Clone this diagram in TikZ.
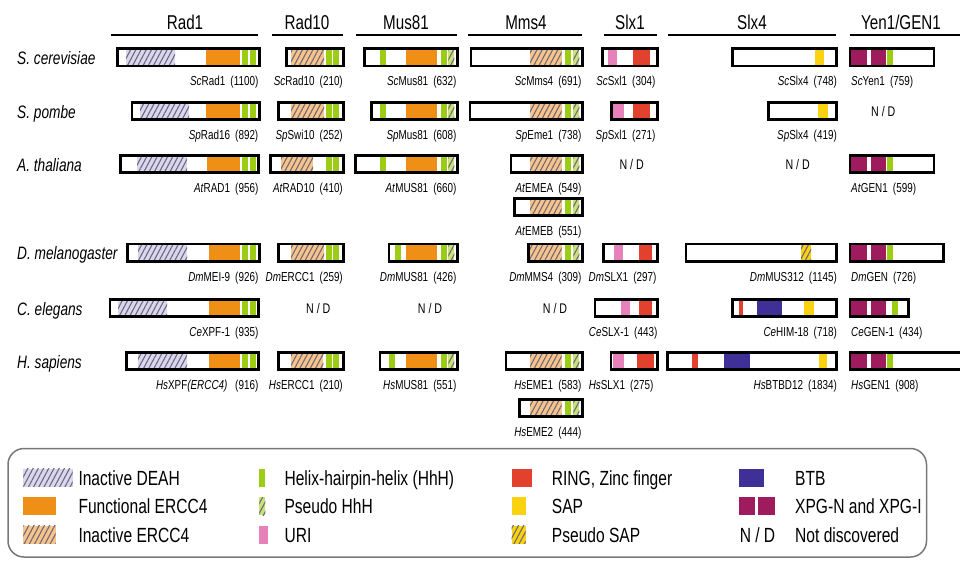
\documentclass[tikz,border=0pt]{standalone}
\usepackage{fontspec}
\setmainfont{Liberation Sans}[FakeStretch=0.76]
\usetikzlibrary{patterns.meta}

% domain colours
\definecolor{lav}{RGB}{218,214,240}
\definecolor{hatch}{RGB}{110,105,120}
\definecolor{ercc}{RGB}{240,143,22}
\definecolor{ltercc}{RGB}{248,196,140}
\definecolor{hhh}{RGB}{157,204,20}
\definecolor{lthhh}{RGB}{200,226,120}
\definecolor{uri}{RGB}{230,130,185}
\definecolor{ring}{RGB}{226,65,45}
\definecolor{sap}{RGB}{250,210,15}
\definecolor{btb}{RGB}{62,48,150}
\definecolor{xpg}{RGB}{158,28,94}
\definecolor{frame}{RGB}{120,120,120}

\newcommand\boxhh{8.7}
\newcommand\hdrsize{\fontsize{20}{24}\selectfont}
\newcommand\spsize{\fontsize{18}{22}\selectfont\itshape}
\newcommand\labsize{\fontsize{13}{15}\selectfont}
\newcommand\ndsize{\fontsize{14}{16}\selectfont}
\newcommand\legsize{\fontsize{20.5}{25}\selectfont}

\tikzset{
  hatched/.style={postaction={pattern={Lines[angle=62,distance=4.6pt,line width=1.1pt]},pattern color=hatch}},
  deah/.style={fill=lav,hatched},
  fercc/.style={fill=ercc},
  iercc/.style={fill=ltercc,hatched},
  hhhbar/.style={fill=hhh},
  phhh/.style={fill=lthhh,hatched},
  uribar/.style={fill=uri},
  ringbar/.style={fill=ring},
  sapbar/.style={fill=sap},
  psap/.style={fill=sap,hatched},
  btbbar/.style={fill=btb},
  xpgbar/.style={fill=xpg},
  protframe/.style={draw=black,line width=2.6pt},
  header/.style={font=\hdrsize,anchor=base,inner sep=0pt},
  headrule/.style={line width=2.4pt},
  species/.style={font=\spsize,anchor=base west,inner sep=0pt},
  plabel/.style={font=\labsize,inner sep=0pt},
  ndtext/.style={font=\ndsize,inner sep=0pt},
  legtext/.style={font=\legsize,anchor=base west,inner sep=0pt},
}

% a domain bar and the outline of a protein, inside a row scope
\newcommand\dmn[3]{\fill[#1] (#2,-\boxhh) rectangle (#3,\boxhh);}
\newcommand\protbox[2]{\draw[protframe] (#1,-\boxhh) rectangle (#2,\boxhh);}
% protein name under its bar: anchor side, node name, x, text
\newcommand\glab[4]{\node[plabel,anchor=base #1] (#2) at (#3,28.5) {#4};}
\newcommand\gn[3]{\textit{#1}#2\hspace{0.4em}(#3)}

% recurring domain layouts
\newcommand\radone[5]{\dmn{deah}{#3}{#4}\dmn{fercc}{#5}{240}\dmn{hhhbar}{242.2}{248.2}\dmn{hhhbar}{249.8}{256}\protbox{#1}{#2}}
\newcommand\radten[3]{\dmn{iercc}{#2}{#3}\dmn{hhhbar}{325.8}{331.6}\dmn{hhhbar}{333.3}{339.3}\protbox{#1}{343.3}}
\newcommand\musone[3]{\dmn{hhhbar}{#2}{#3}\dmn{fercc}{405.7}{436.7}\dmn{hhhbar}{440.7}{446.7}\dmn{phhh}{448.3}{454.3}\protbox{#1}{457.3}}
\newcommand\mmsfour[1]{\dmn{iercc}{530}{561.7}\dmn{hhhbar}{565}{571}\dmn{phhh}{573.3}{579.3}\protbox{#1}{582.7}}
\newcommand\yenone[2]{\dmn{xpgbar}{851}{867.3}\dmn{xpgbar}{870.7}{885.7}\dmn{hhhbar}{#2}{#2+6.5}\protbox{850}{#1}}

\begin{document}
\begin{tikzpicture}[x=1pt,y=-1pt]
\clip (0,0) rectangle (960,560);
\fill[white] (0,0) rectangle (960,560);

% column headings
\node[header] (hRad1) at (185,29.3) {Rad1};
\node[header] (hRad10) at (307,29.3) {Rad10};
\node[header] (hMus81) at (406,29.3) {Mus81};
\node[header] (hMms4) at (526,29.3) {Mms4};
\node[header] (hSlx1) at (630,29.3) {Slx1};
\node[header] (hSlx4) at (752,29.3) {Slx4};
\node[header] (hYen1) at (901,29.3) {Yen1/GEN1};
\draw[headrule] (111,35) -- (258,35);
\draw[headrule] (272,35) -- (343,35);
\draw[headrule] (356,35) -- (457,35);
\draw[headrule] (468,35) -- (582,35);
\draw[headrule] (604,35) -- (657,35);
\draw[headrule] (668,35) -- (836,35);
\draw[headrule] (850,35) -- (962,35);

% S. cerevisiae
\begin{scope}[shift={(0,57.3)}]
  \node[species] (spSc) at (17,7) {S.~cerevisiae};
  \radone{117.3}{259.3}{126}{175}{206}
  \glab{east}{ScRad1}{258.5}{\gn{Sc}{Rad1}{1100}}
  \radten{286.7}{291}{324}
  \glab{east}{ScRad10}{343}{\gn{Sc}{Rad10}{210}}
  \musone{364.3}{380}{386}
  \glab{east}{ScMus81}{456.7}{\gn{Sc}{Mus81}{632}}
  \mmsfour{471}
  \glab{east}{ScMms4}{581.7}{\gn{Sc}{Mms4}{691}}
  \dmn{uribar}{607.7}{616.7}\dmn{ringbar}{633.3}{650}\protbox{602.7}{657.7}
  \glab{east}{ScSxl1}{655.5}{\gn{Sc}{Sxl1}{304}}
  \dmn{sapbar}{815}{824}\protbox{732.7}{836.7}
  \glab{east}{ScSlx4}{837}{\gn{Sc}{Slx4}{748}}
  \yenone{934}{886.7}
  \glab{west}{ScYen1}{851}{\gn{Sc}{Yen1}{759}}
\end{scope}

% S. pombe
\begin{scope}[shift={(0,111)}]
  \node[species] (spSp) at (17,7) {S.~pombe};
  \radone{132}{259.3}{140}{189}{206}
  \glab{east}{SpRad16}{258.5}{\gn{Sp}{Rad16}{892}}
  \radten{278.3}{291}{324}
  \glab{east}{SpSwi10}{343}{\gn{Sp}{Swi10}{252}}
  \musone{371.7}{380}{386}
  \glab{east}{SpMus81}{456.7}{\gn{Sp}{Mus81}{608}}
  \mmsfour{470}
  \glab{east}{SpEme1}{581.7}{\gn{Sp}{Eme1}{738}}
  \dmn{uribar}{613.3}{624}\dmn{ringbar}{633.3}{650}\protbox{611.7}{657.7}
  \glab{east}{SpSxl1}{655.5}{\gn{Sp}{Sxl1}{271}}
  \dmn{sapbar}{817.7}{827.7}\protbox{768.3}{836.7}
  \glab{east}{SpSlx4}{837}{\gn{Sp}{Slx4}{419}}
  \node[ndtext] (ndSpYen) at (883.3,0.5) {N / D};
\end{scope}

% A. thaliana
\begin{scope}[shift={(0,164)}]
  \node[species] (spAt) at (17,7) {A.~thaliana};
  \radone{120.7}{258.7}{137}{187}{206.7}
  \glab{east}{AtRAD1}{258.5}{\gn{At}{RAD1}{956}}
  \radten{270.7}{281}{313}
  \glab{east}{AtRAD10}{343}{\gn{At}{RAD10}{410}}
  \musone{355.7}{380}{386}
  \glab{east}{AtMUS81}{456.7}{\gn{At}{MUS81}{660}}
  \mmsfour{511}
  \glab{east}{AtEMEA}{581.7}{\gn{At}{EMEA}{549}}
  \node[ndtext] (ndAtSlx1) at (631.7,0.5) {N / D};
  \node[ndtext] (ndAtSlx4) at (797.7,0.5) {N / D};
  \yenone{934}{886.7}
  \glab{west}{AtGEN1}{851}{\gn{At}{GEN1}{599}}
\end{scope}
\begin{scope}[shift={(0,207)}]
  \mmsfour{514.3}
  \glab{east}{AtEMEB}{581.7}{\gn{At}{EMEB}{551}}
\end{scope}

% D. melanogaster
\begin{scope}[shift={(0,252.7)}]
  \node[species] (spDm) at (17,7) {D.~melanogaster};
  \radone{127.3}{259.3}{138}{187}{208.7}
  \glab{east}{DmMEI9}{258.5}{\gn{Dm}{MEI-9}{926}}
  \radten{278.3}{291}{324}
  \glab{east}{DmERCC1}{343}{\gn{Dm}{ERCC1}{259}}
  \musone{389}{395}{401}
  \glab{east}{DmMUS81}{456.7}{\gn{Dm}{MUS81}{426}}
  \mmsfour{528.3}
  \glab{east}{DmMMS4}{581.7}{\gn{Dm}{MMS4}{309}}
  \dmn{uribar}{614}{623.3}\dmn{ringbar}{638.7}{652}\protbox{603.3}{657.7}
  \glab{east}{DmSLX1}{656.7}{\gn{Dm}{SLX1}{297}}
  \dmn{psap}{801}{811}\protbox{686}{836.7}
  \glab{east}{DmMUS312}{837}{\gn{Dm}{MUS312}{1145}}
  \yenone{943.3}{886.7}
  \glab{west}{DmGEN}{851}{\gn{Dm}{GEN}{726}}
\end{scope}

% C. elegans
\begin{scope}[shift={(0,308)}]
  \node[species] (spCe) at (17,7) {C.~elegans};
  \radone{110}{258.7}{118}{167}{208.7}
  \glab{east}{CeXPF1}{258.5}{\gn{Ce}{XPF-1}{935}}
  \node[ndtext] (ndCeRad10) at (318.3,0.5) {N / D};
  \node[ndtext] (ndCeMus81) at (430,0.5) {N / D};
  \node[ndtext] (ndCeMms4) at (555,0.5) {N / D};
  \dmn{uribar}{620.7}{630}\dmn{ringbar}{638.7}{652}\protbox{595}{657.7}
  \glab{east}{CeSLX1}{657.5}{\gn{Ce}{SLX-1}{443}}
  \dmn{ringbar}{739.3}{743.3}\dmn{btbbar}{756.7}{781.7}\dmn{sapbar}{804}{814}\protbox{732.7}{836.7}
  \glab{east}{CeHIM18}{837}{\gn{Ce}{HIM-18}{718}}
  \yenone{908.3}{891.7}
  \glab{west}{CeGEN1}{851}{\gn{Ce}{GEN-1}{434}}
\end{scope}

% H. sapiens
\begin{scope}[shift={(0,361)}]
  \node[species] (spHs) at (17,7) {H.~sapiens};
  \radone{126.7}{258.7}{138}{187}{208.7}
  \glab{east}{HsXPF}{258.5}{\textit{Hs}XPF\textit{(ERCC4)}\hspace{0.6em}(916)}
  \radten{278.3}{291}{323.3}
  \glab{east}{HsERCC1}{343}{\gn{Hs}{ERCC1}{210}}
  \musone{380}{389}{395}
  \glab{east}{HsMUS81}{456.7}{\gn{Hs}{MUS81}{551}}
  \mmsfour{506}
  \glab{east}{HsEME1}{581.7}{\gn{Hs}{EME1}{583}}
  \dmn{uribar}{613.3}{624}\dmn{ringbar}{637}{653.7}\protbox{611}{657.7}
  \glab{east}{HsSLX1}{653.5}{\gn{Hs}{SLX1}{275}}
  \dmn{ringbar}{691.7}{697.7}\dmn{btbbar}{724}{750}\dmn{sapbar}{819}{826.7}\protbox{667.3}{836.7}
  \glab{east}{HsBTBD12}{837}{\gn{Hs}{BTBD12}{1834}}
  \yenone{975}{886.7}
  \glab{west}{HsGEN1}{851}{\gn{Hs}{GEN1}{908}}
\end{scope}
\begin{scope}[shift={(0,408)}]
  \mmsfour{519.3}
  \glab{east}{HsEME2}{581.7}{\gn{Hs}{EME2}{444}}
\end{scope}

% key
\draw[frame,line width=1.5pt,rounded corners=16pt] (8,448.5) rectangle (926.5,557);
% column 1
\fill[deah] (23.3,468.5) rectangle (72.7,486.5);
\fill[fercc] (23.3,497) rectangle (55.7,515);
\fill[iercc] (23.3,525.5) rectangle (55.7,543.5);
\node[legtext] (kDEAH) at (78.3,485) {Inactive DEAH};
\node[legtext] (kFERCC) at (78.3,513.5) {Functional ERCC4};
\node[legtext] (kIERCC) at (78.3,542) {Inactive ERCC4};
% column 2
\fill[hhhbar] (259.3,468.5) rectangle (265.3,486.5);
\fill[phhh] (259.3,497) rectangle (265.3,515);
\fill[uribar] (259.3,525.5) rectangle (267.7,543.5);
\node[legtext] (kHhH) at (284.3,485) {Helix-hairpin-helix (HhH)};
\node[legtext] (kPHhH) at (284.3,513.5) {Pseudo HhH};
\node[legtext] (kURI) at (284.3,542) {URI};
% column 3
\fill[ringbar] (511.7,468.5) rectangle (531.7,486.5);
\fill[sapbar] (511.7,497) rectangle (525.7,515);
\fill[psap] (511.7,525.5) rectangle (525.7,543.5);
\node[legtext] (kRING) at (551.7,485) {RING, Zinc finger};
\node[legtext] (kSAP) at (551.7,513.5) {SAP};
\node[legtext] (kPSAP) at (551.7,542) {Pseudo SAP};
% column 4
\fill[btbbar] (739.3,468.5) rectangle (764.3,486.5);
\fill[xpgbar] (739.3,497) rectangle (755,515);
\fill[xpgbar] (758.3,497) rectangle (775,515);
\node[font=\legsize,anchor=base,inner sep=0pt] (kND) at (757.5,542) {N / D};
\node[legtext] (kBTB) at (795,485) {BTB};
\node[legtext] (kXPG) at (795,513.5) {XPG-N and XPG-I};
\node[legtext] (kNot) at (795,542) {Not discovered};
\end{tikzpicture}
\end{document}
